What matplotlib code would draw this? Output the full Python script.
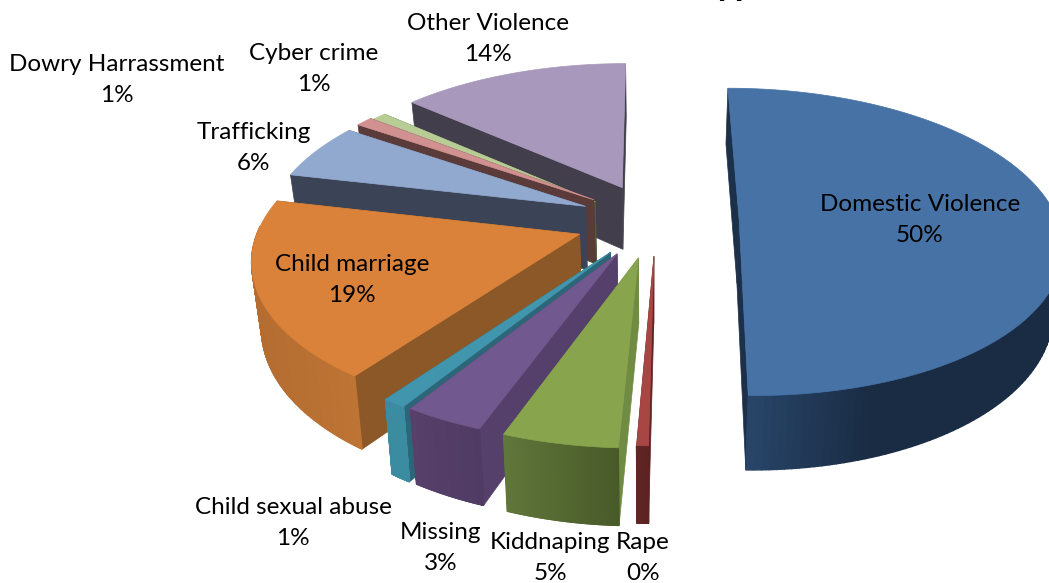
import numpy as np
import matplotlib
matplotlib.use("Agg")
import matplotlib.pyplot as plt
from matplotlib.colors import to_rgb

plt.rcParams['font.family'] = ['Lato', 'DejaVu Sans']

# data
names = ['Domestic Violence', 'Rape', 'Kiddnaping', 'Missing', 'Child sexual abuse',
         'Child marriage', 'Trafficking', 'Dowry Harrassment', 'Cyber crime', 'Other Violence']
values = [50.4, 0.49, 4.9, 3.4, 1, 18.6, 5.9, 1, 1, 13.6]

# how far each slice is pulled out of the pie, sideways and back
explode_x = [0.28, 0.012, -0.035, -0.10, -0.12, -0.218, -0.205, -0.18, -0.175, -0.09]
explode_y = [0.035, -0.20, -0.21, -0.185, -0.175, -0.06, 0.125, 0.17, 0.157, 0.255]

# styles: top face, side face, wall left, wall right
top_col = ['#4672a6', '#a84644', '#88a44d', '#71588e', '#4196ae', '#da813a', '#92a9cf', '#d09190', '#b8cc96', '#a898bc']
cut_col = ['#1c3049', '#5f2424', '#708c42', '#553f6b', '#2d6678', '#8d5827', '#3b4457', '#5a3b39', '#4d5f32', '#433e4c']
wall_a = ['#2b4a70', '#622525', '#60763a', '#574069', '#3b8ba1', '#b46c31', '#3b4457', '#5a3b39', '#4d5f32', '#433e4c']
wall_b = ['#1a2c44', '#5c2222', '#485a29', '#4f3b64', '#3b8ba1', '#bd7434', '#3b4457', '#5a3b39', '#4d5f32', '#433e4c']

# projection of the pie plane
cx, cy = 650, 225
R, k, persp = 320, 0.475, 0.145
depth, taper = 64, 0.975


def project(wx, wy, low=False):
    s = 1 / (1 + persp * wy)
    x = cx + R * wx * s
    y = cy - R * k * wy * s
    if low:
        x = cx + (x - cx) * taper
        y = y + depth * s
    return x, y


def mix(a, b, t):
    a, b = np.array(to_rgb(a)), np.array(to_rgb(b))
    return tuple(a + (b - a) * t)


fig = plt.figure(figsize=(10.49, 5.83), dpi=100)
ax = fig.add_axes([0, 0, 1, 1])
ax.set_xlim(0, 1049)
ax.set_ylim(583, 0)
ax.axis('off')

fracs = np.array(values) / sum(values) * 360
edges = np.concatenate([[0], np.cumsum(fracs)])

# far slices first, domestic violence last
order = [9, 8, 7, 6, 5, 4, 3, 2, 1, 0]
for i in order:
    th = np.radians(np.linspace(edges[i], edges[i + 1], 150))
    ox, oy = explode_x[i], explode_y[i]
    wx = ox + np.sin(th)
    wy = oy + np.cos(th)
    tx, ty = project(wx, wy)
    bx, by = project(wx, wy, low=True)
    ax_, ay_ = project(ox, oy)
    lx, ly = project(ox, oy, low=True)

    # cut faces
    for j in (0, -1):
        ax.fill([ax_, tx[j], bx[j], lx], [ay_, ty[j], by[j], ly], color=cut_col[i], lw=0.5)
    # outer wall, split up for the shading along the screen, back part is hidden
    x0, x1 = bx.min(), bx.max()
    for j in range(len(th) - 1):
        if np.cos(th[j]) > 0.05:
            continue
        t = (bx[j] - x0) / max(x1 - x0, 1)
        if i == 0:
            t = min(t * 2.3, 1)
        ax.fill([tx[j], tx[j + 1], bx[j + 1], bx[j]], [ty[j], ty[j + 1], by[j + 1], by[j]],
                color=mix(wall_a[i], wall_b[i], t), lw=1)
    ax.fill(np.r_[ax_, tx], np.r_[ay_, ty], color=top_col[i], lw=0.5)

# labels
label_pos = [(920, 220), (643, 558), (550, 558), (441, 548), (293, 523),
             (352, 280), (254, 148), (117, 80), (314, 69), (488, 39)]
pct = [round(v / sum(values) * 100) for v in values]
for name, p, (x, y) in zip(names, pct, label_pos):
    ax.text(x, y, f'{name}\n{p}%', ha='center', va='center', fontsize=17.5, color='black',
            linespacing=1.62, zorder=5)

# title cut off by the top of the picture
fig.text(735 / 1049, 1 + 5 / 583, 'Type', ha='center', va='baseline', fontsize=26, fontweight='bold')

fig.savefig('out.png', dpi=100)
